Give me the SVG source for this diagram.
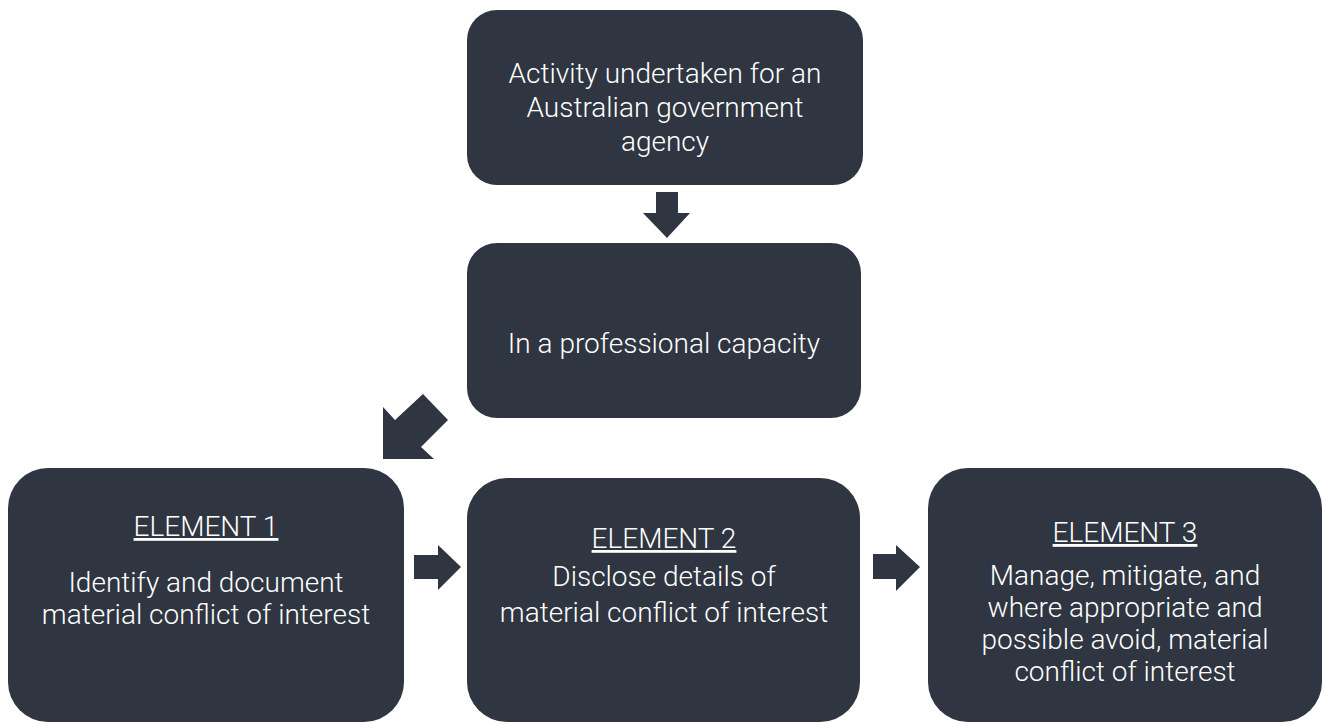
<svg xmlns="http://www.w3.org/2000/svg" width="1324" height="724" viewBox="0 0 1324 724">
  <style>
    .box { fill: #2f3541; }
    .arrow { fill: #2f3541; }
    .txt { font-family: Roboto, "Liberation Sans", Arial, sans-serif; font-weight: 300; font-size: 28px; fill: #ffffff; text-anchor: middle; }
    .head { text-decoration: underline; }
  </style>
  <rect width="1324" height="724" fill="#ffffff"/>

  <!-- block arrows between the steps -->
  <g id="connectors">
    <polygon class="arrow" points="656,192 678,192 678,213 690,213 667,238 643,213 656,213"/>
    <polygon class="arrow" points="383,407 395,420 423,394 448,420 421,447 434,459 383,459"/>
    <polygon class="arrow" points="414,555 438,555 438,545 461,567 438,590 438,579 414,579"/>
    <polygon class="arrow" points="873,554 896,554 896,545 920,567 896,591 896,579 873,579"/>
  </g>

  <g id="activity">
    <rect class="box" x="467" y="10" width="396" height="175" rx="30"/>
    <text class="txt" x="665" y="83">Activity undertaken for an</text>
    <text class="txt" x="665" y="117">Australian government</text>
    <text class="txt" x="665" y="151">agency</text>
  </g>

  <g id="capacity">
    <rect class="box" x="467" y="243" width="394" height="175" rx="30"/>
    <text class="txt" x="664" y="353">In a professional capacity</text>
  </g>

  <g id="element1">
    <rect class="box" x="8" y="468" width="396" height="254" rx="40"/>
    <text class="txt head" x="206" y="536">ELEMENT 1</text>
    <text class="txt" x="206" y="592">Identify and document</text>
    <text class="txt" x="206" y="624">material conflict of interest</text>
  </g>

  <g id="element2">
    <rect class="box" x="467" y="478" width="393" height="244" rx="40"/>
    <text class="txt head" x="664" y="548">ELEMENT 2</text>
    <text class="txt" x="664" y="586">Disclose details of</text>
    <text class="txt" x="664" y="622">material conflict of interest</text>
  </g>

  <g id="element3">
    <rect class="box" x="928" y="468" width="394" height="254" rx="40"/>
    <text class="txt head" x="1125" y="542">ELEMENT 3</text>
    <text class="txt" x="1125" y="585">Manage, mitigate, and</text>
    <text class="txt" x="1125" y="617">where appropriate and</text>
    <text class="txt" x="1125" y="649">possible avoid, material</text>
    <text class="txt" x="1125" y="681">conflict of interest</text>
  </g>
</svg>
